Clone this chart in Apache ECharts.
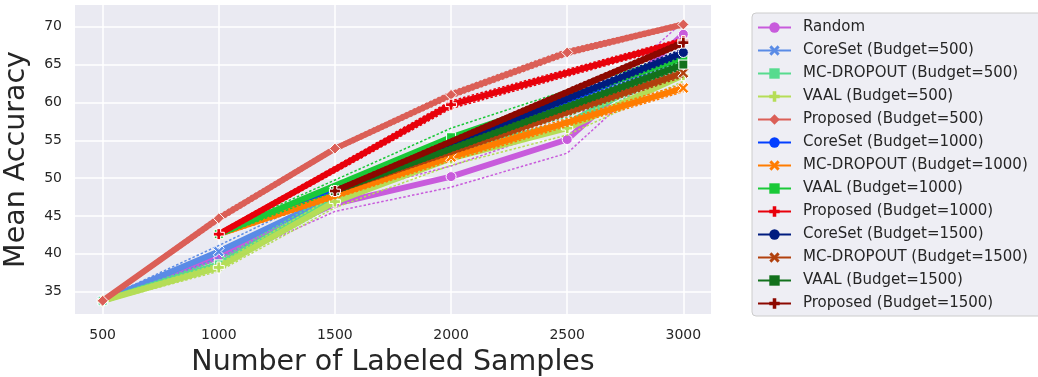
<!DOCTYPE html>
<html>
<head>
<meta charset="utf-8">
<title>Mean Accuracy vs Number of Labeled Samples</title>
<script src="https://cdn.jsdelivr.net/npm/echarts@6/dist/echarts.min.js"></script>
<style>
  html, body { margin: 0; padding: 0; background: #ffffff; }
  #chart { width: 1038px; height: 377px; }
</style>
</head>
<body>
<div id="chart"></div>
<script>
// Tick values for both axes
const xTicks = [500, 1000, 1500, 2000, 2500, 3000];
const yTicks = [35, 40, 45, 50, 55, 60, 65, 70];

// Sample counts at which each budget is evaluated
const xBudget500 = [500, 1000, 1500, 2000, 2500, 3000];
const xBudget1000 = [1000, 2000, 3000];
const xBudget1500 = [1500, 3000];

// Mean accuracy and standard deviation per method
const randomMean = [33.8, 39.6, 46.6, 50.2, 55.1, 69.0];
const randomStd = [0.2, 0.9, 1.0, 1.4, 1.8, 1.7];

const coreset500Mean = [33.8, 40.3, 47.6, 54.0, 59.5, 65.2];
const coreset500Std = [0.2, 0.8, 0.9, 0.8, 0.8, 0.6];

const mcdropout500Mean = [33.8, 38.6, 47.3, 53.6, 57.2, 65.4];
const mcdropout500Std = [0.2, 0.6, 0.8, 0.8, 0.8, 0.6];

const vaal500Mean = [33.8, 38.2, 46.9, 52.6, 56.6, 63.6];
const vaal500Std = [0.2, 0.5, 0.8, 0.9, 0.9, 0.8];

const proposed500Mean = [33.8, 44.7, 53.9, 61.0, 66.6, 70.3];
const proposed500Std = [0.2, 0.4, 0.3, 0.4, 0.4, 0.3];

const coreset1000Mean = [42.6, 54.2, 66.3];
const coreset1000Std = [0.3, 0.6, 0.5];

const mcdropout1000Mean = [42.6, 52.8, 61.9];
const mcdropout1000Std = [0.3, 0.5, 0.5];

const vaal1000Mean = [42.6, 55.4, 65.9];
const vaal1000Std = [0.3, 1.2, 0.7];

const proposed1000Mean = [42.6, 59.7, 68.1];
const proposed1000Std = [0.3, 0.5, 0.4];

const coreset1500Mean = [48.3, 66.6];
const coreset1500Std = [0.3, 0.5];

const mcdropout1500Mean = [48.3, 63.9];
const mcdropout1500Std = [0.3, 0.5];

const vaal1500Mean = [48.3, 65.0];
const vaal1500Std = [0.3, 0.5];

const proposed1500Mean = [48.3, 67.9];
const proposed1500Std = [0.3, 0.4];

// Marker shapes (filled X and filled plus)
const SYM_X = 'path://M2,0 L5,3 L8,0 L10,2 L7,5 L10,8 L8,10 L5,7 L2,10 L0,8 L3,5 L0,2 Z';
const SYM_P = 'path://M3.3,0 H6.7 V3.3 H10 V6.7 H6.7 V10 H3.3 V6.7 H0 V3.3 H3.3 Z';

const methods = [
  { name: 'Random', xs: xBudget500, mean: randomMean, std: randomStd, color: '#c85bdc', symbol: 'circle', size: 10 },
  { name: 'CoreSet (Budget=500)', xs: xBudget500, mean: coreset500Mean, std: coreset500Std, color: '#5a8be6', symbol: SYM_X, size: 11 },
  { name: 'MC-DROPOUT (Budget=500)', xs: xBudget500, mean: mcdropout500Mean, std: mcdropout500Std, color: '#57db8e', symbol: 'rect', size: 9 },
  { name: 'VAAL (Budget=500)', xs: xBudget500, mean: vaal500Mean, std: vaal500Std, color: '#b5dd57', symbol: SYM_P, size: 11 },
  { name: 'Proposed (Budget=500)', xs: xBudget500, mean: proposed500Mean, std: proposed500Std, color: '#db5f57', symbol: 'diamond', size: 11 },
  { name: 'CoreSet (Budget=1000)', xs: xBudget1000, mean: coreset1000Mean, std: coreset1000Std, color: '#023eff', symbol: 'circle', size: 10 },
  { name: 'MC-DROPOUT (Budget=1000)', xs: xBudget1000, mean: mcdropout1000Mean, std: mcdropout1000Std, color: '#ff7c00', symbol: SYM_X, size: 11 },
  { name: 'VAAL (Budget=1000)', xs: xBudget1000, mean: vaal1000Mean, std: vaal1000Std, color: '#1ac938', symbol: 'rect', size: 9 },
  { name: 'Proposed (Budget=1000)', xs: xBudget1000, mean: proposed1000Mean, std: proposed1000Std, color: '#e8000b', symbol: SYM_P, size: 11 },
  { name: 'CoreSet (Budget=1500)', xs: xBudget1500, mean: coreset1500Mean, std: coreset1500Std, color: '#001c7f', symbol: 'circle', size: 10 },
  { name: 'MC-DROPOUT (Budget=1500)', xs: xBudget1500, mean: mcdropout1500Mean, std: mcdropout1500Std, color: '#b1400d', symbol: SYM_X, size: 11 },
  { name: 'VAAL (Budget=1500)', xs: xBudget1500, mean: vaal1500Mean, std: vaal1500Std, color: '#12711c', symbol: 'rect', size: 9 },
  { name: 'Proposed (Budget=1500)', xs: xBudget1500, mean: proposed1500Mean, std: proposed1500Std, color: '#8c0800', symbol: SYM_P, size: 11 }
];

const FONT = 'DejaVu Sans';
const TEXT = '#262626';

// Gridlines with their tick labels, drawn beneath the data
const gridSeries = [
  {
    type: 'line', name: 'x-grid', data: [], silent: true, z: 1,
    markLine: {
      silent: true, symbol: ['none', 'none'], animation: false, z: 1,
      lineStyle: { color: '#ffffff', width: 1.5, type: 'solid' },
      label: { show: true, position: 'start', distance: 14, formatter: p => String(p.value),
               fontFamily: FONT, fontSize: 14, color: TEXT },
      emphasis: { disabled: true },
      data: xTicks.map(v => ({ xAxis: v }))
    }
  },
  {
    type: 'line', name: 'y-grid', data: [], silent: true, z: 1,
    markLine: {
      silent: true, symbol: ['none', 'none'], animation: false, z: 1,
      lineStyle: { color: '#ffffff', width: 1.5, type: 'solid' },
      label: { show: true, position: 'start', distance: 13, formatter: p => String(p.value),
               fontFamily: FONT, fontSize: 14, color: TEXT },
      emphasis: { disabled: true },
      data: yTicks.map(v => ({ yAxis: v }))
    }
  }
];

// Each method is stacked above the previous one, markers included
const dataSeries = [];
methods.forEach((m, k) => {
  const layer = 3 + k;
  dataSeries.push({
    type: 'line', name: m.name, z: layer,
    data: m.xs.map((x, i) => [x, m.mean[i]]),
    symbol: m.symbol, symbolSize: m.size,
    lineStyle: { color: m.color, width: 6, type: 'solid' },
    itemStyle: { color: m.color, borderColor: '#ffffff', borderWidth: 1 },
    emphasis: { disabled: true }
  });
  ['upper', 'lower'].forEach((side, s) => {
    dataSeries.push({
      type: 'line', name: m.name + ' ' + side, z: layer,
      data: m.xs.map((x, i) => [x, s === 0 ? m.mean[i] + m.std[i] : m.mean[i] - m.std[i]]),
      symbol: 'none',
      lineStyle: { color: m.color, width: 1.5, type: [2.5, 2] },
      emphasis: { disabled: true }
    });
  });
});

const chart = echarts.init(document.getElementById('chart'), null, { renderer: 'canvas' });
chart.setOption({
  animation: false,
  backgroundColor: '#ffffff',
  textStyle: { fontFamily: FONT },
  grid: {
    left: 75, top: 5, right: 327, bottom: 63,
    outerBoundsMode: 'none', containLabel: false,
    show: true, backgroundColor: '#eaeaf2', borderWidth: 0
  },
  xAxis: {
    type: 'value', min: 381, max: 3119,
    axisLine: { show: false }, axisTick: { show: false },
    axisLabel: { show: false }, splitLine: { show: false },
    name: 'Number of Labeled Samples', nameLocation: 'middle', nameGap: 34,
    nameTextStyle: { fontFamily: FONT, fontSize: 28.5, color: TEXT }
  },
  yAxis: {
    type: 'value', min: 32.05, max: 72.87,
    axisLine: { show: false }, axisTick: { show: false },
    axisLabel: { show: false }, splitLine: { show: false },
    name: 'Mean Accuracy', nameLocation: 'middle', nameGap: 44, nameRotate: 90,
    nameTextStyle: { fontFamily: FONT, fontSize: 28.5, color: TEXT }
  },
  legend: {
    orient: 'vertical', left: 752, top: 13, z: 20,
    padding: [7, 40, 5, 5],
    itemWidth: 33, itemHeight: 13, itemGap: 8,
    backgroundColor: '#eeeef4', borderColor: '#cccccc', borderWidth: 1, borderRadius: 4,
    lineStyle: { width: 2, type: 'solid' },
    itemStyle: { borderWidth: 0 },
    textStyle: { fontFamily: FONT, fontSize: 15, color: TEXT, padding: [0, 0, 0, 7] },
    data: methods.map(m => m.name)
  },
  series: gridSeries.concat(dataSeries)
});
</script>
</body>
</html>
